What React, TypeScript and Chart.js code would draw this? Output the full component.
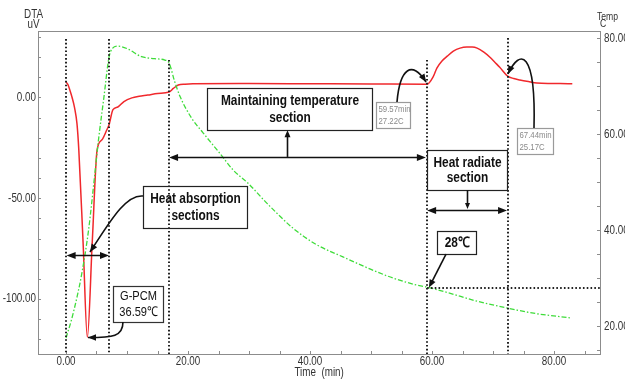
import React, { useEffect, useRef } from 'react';
import { Chart, registerables } from 'chart.js';

Chart.register(...registerables);

// ---------------- Data ----------------
// DTA signal (uV) vs time (min)  - red, left axis
const dtaTime = [0, 0.3, 0.6, 1.0, 1.4, 1.8, 2.1, 2.8, 3.5, 4.3, 5.1, 5.9, 6.7, 7.05, 7.7, 8.5, 9.5, 10.8, 12.0, 13.4, 15.0, 16.9, 17.6, 18.4, 19.5, 20.8, 30, 40, 50, 59.2, 60.2, 60.8, 61.6, 62.5, 63.5, 64.6, 65.7, 66.6, 67.4, 68.5, 69.5, 70.3, 71.1, 72.4, 73.4, 74.4, 75.8, 77.2, 79.0, 81.0, 83.0];
const dtaValue = [7.7, 6.5, 4, 0, -5, -13, -26, -72, -119, -72, -26, -21, -16, -13.6, -6, -4.7, -2, -0.2, 0.6, 1.2, 2, 2.7, 4.5, 6.2, 6.6, 6.8, 6.9, 6.8, 6.7, 6.6, 10.3, 14.6, 18, 20.5, 23, 24.5, 25, 25, 24.5, 22.5, 20, 17.5, 15, 10.6, 9.4, 8.7, 7.9, 7.2, 7.0, 7.0, 6.8];

// Temperature (C) vs time (min) - green, right axis
const tempTime = [0, 0.9, 1.8, 2.6, 3.7, 4.75, 5.3, 6.2, 7.05, 7.6, 8.5, 10, 12.4, 14.5, 16.2, 16.9, 17.8, 18.7, 20.6, 22.5, 25.2, 27.4, 29.8, 33.0, 37.2, 41.0, 45.4, 50.0, 53.6, 57.0, 59.5, 63.0, 67.0, 72.3, 77.0, 82.6];
const tempValue = [17.5, 21.3, 26, 31, 40, 52, 58.5, 67.5, 76, 77.8, 78.3, 77.8, 76.1, 75.7, 75.4, 74.8, 71, 67.8, 63.3, 60.2, 56, 52.5, 49.8, 45.5, 40.4, 37, 34.4, 31.8, 30, 28.7, 28, 26.8, 25.3, 23.75, 22.6, 21.7];

// Axis ticks
const xLabelValues = [0, 20, 40, 60, 80];
const xLabels = ['0.00', '20.00', '40.00', '60.00', '80.00'];
const xMinorValues = [0, 5, 10, 15, 20, 25, 30, 35, 40, 45, 50, 55, 60, 65, 70, 75, 80, 85];
const dtaLabelValues = [0, -50, -100];
const dtaLabels = ['0.00', '-50.00', '-100.00'];
const dtaMinorValues = [-120, -110, -100, -90, -80, -70, -60, -50, -40, -30, -20, -10, 0, 10, 20, 30];
const tempLabelValues = [20, 40, 60, 80];
const tempLabels = ['20.00', '40.00', '60.00', '80.00'];
const tempMinorValues = [15, 20, 25, 30, 35, 40, 45, 50, 55, 60, 65, 70, 75, 80];

// Section boundaries (min) and marked temperature
const sectionTimes = [0, 7.05, 16.9, 59.2, 72.4];
const markedTemp = 28;

// ---------------- Styling ----------------
const FAMILY = "'Liberation Sans', Arial, sans-serif";
const SQUEEZE = 0.82;
const RED = '#f0282c';
const GREEN = '#3fdc3a';
const AXIS = '#8c8c8c';
const TXT = '#333333';

function txt(
  ctx: CanvasRenderingContext2D,
  s: string,
  x: number,
  y: number,
  size: number,
  align: CanvasTextAlign = 'center',
  color = TXT,
  bold = false,
  sx = SQUEEZE,
) {
  ctx.save();
  ctx.translate(x, y);
  ctx.scale(sx, 1);
  ctx.font = `${bold ? 'bold ' : ''}${size}px ${FAMILY}`;
  ctx.textAlign = align;
  ctx.textBaseline = 'middle';
  ctx.fillStyle = color;
  ctx.fillText(s, 0, 0);
  ctx.restore();
}

function arrowHead(ctx: CanvasRenderingContext2D, x: number, y: number, ang: number, len = 9, hw = 3.6) {
  const c = Math.cos(ang), s = Math.sin(ang);
  ctx.beginPath();
  ctx.moveTo(x, y);
  ctx.lineTo(x - len * c + hw * s, y - len * s - hw * c);
  ctx.lineTo(x - len * c - hw * s, y - len * s + hw * c);
  ctx.closePath();
  ctx.fill();
}

const overlay = {
  id: 'overlay',
  beforeDatasetsDraw(chart: any) {
    const { ctx, chartArea: a, scales } = chart;
    ctx.save();
    ctx.strokeStyle = AXIS;
    ctx.lineWidth = 1;
    ctx.strokeRect(a.left + 0.5, a.top + 0.5, a.right - a.left, a.bottom - a.top);
    ctx.beginPath();
    scales.x.ticks.forEach((t: any) => {
      const p = Math.round(scales.x.getPixelForValue(t.value)) + 0.5;
      ctx.moveTo(p, a.bottom); ctx.lineTo(p, a.bottom - 3);
    });
    scales.y.ticks.forEach((t: any) => {
      const p = Math.round(scales.y.getPixelForValue(t.value)) + 0.5;
      ctx.moveTo(a.left, p); ctx.lineTo(a.left + 3, p);
    });
    scales.y1.ticks.forEach((t: any) => {
      const p = Math.round(scales.y1.getPixelForValue(t.value)) + 0.5;
      ctx.moveTo(a.right, p); ctx.lineTo(a.right - 3, p);
    });
    ctx.stroke();

    // tick labels
    xLabelValues.forEach((v, i) => txt(ctx, xLabels[i], scales.x.getPixelForValue(v), a.bottom + 7.5, 12));
    dtaLabelValues.forEach((v, i) => txt(ctx, dtaLabels[i], a.left - 2, scales.y.getPixelForValue(v), 12, 'right'));
    tempLabelValues.forEach((v, i) => txt(ctx, tempLabels[i], a.right + 4, scales.y1.getPixelForValue(v) + 1, 12, 'left'));

    // axis titles
    txt(ctx, 'DTA', 33.5, 15, 12);
    txt(ctx, 'uV', 33.5, 25, 12);
    txt(ctx, 'Time  (min)', scales.x.getPixelForValue(41.5), 373, 12);
    txt(ctx, 'Temp', a.right - 3, 17, 10.5, 'left');
    txt(ctx, 'C', a.right, 24, 10.5, 'left');
    ctx.restore();
  },
  afterDatasetsDraw(chart: any) {
    const { ctx, chartArea: a, scales } = chart;
    const X = (t: number) => scales.x.getPixelForValue(t);
    const Y = (v: number) => scales.y.getPixelForValue(v);
    const YT = (v: number) => scales.y1.getPixelForValue(v);
    ctx.save();

    // boxes
    const box = (t0: number, v0: number, t1: number, v1: number, lines: string[], size: number, bold: boolean, color: string, border: string, gap: number, align: CanvasTextAlign = 'center') => {
      const x0 = Math.round(X(t0)) + 0.5, x1 = Math.round(X(t1)) + 0.5;
      const y0 = Math.round(Y(v0)) + 0.5, y1 = Math.round(Y(v1)) + 0.5;
      ctx.fillStyle = '#ffffff';
      ctx.fillRect(x0, y0, x1 - x0, y1 - y0);
      ctx.strokeStyle = border;
      ctx.lineWidth = 1.2;
      ctx.setLineDash([]);
      ctx.strokeRect(x0, y0, x1 - x0, y1 - y0);
      const cy = (y0 + y1) / 2;
      const cx = align === 'center' ? (x0 + x1) / 2 : x0 + 2;
      lines.forEach((l, i) => txt(ctx, l, cx, cy + (i - (lines.length - 1) / 2) * gap, size, align, color, bold));
    };
    box(12.62, -43.9, 29.67, -64.8, ['Heat absorption', 'sections'], 14.5, true, '#111', '#222', 16.6);
    box(7.7, -93.4, 15.9, -111.4, ['G-PCM', '36.59\u2103'], 13.5, false, '#111', '#333', 15.6);
    box(23.11, 4.71, 50.16, -16.13, ['Maintaining temperature', 'section'], 14.5, true, '#111', '#222', 16.6);
    box(50.82, -2.23, 56.39, -15.14, ['59.57min', '27.22C'], 9.5, false, '#8a8a8a', '#9a9a9a', 11.7, 'left');
    box(73.93, -15.14, 79.84, -28.04, ['67.44min', '25.17C'], 9.5, false, '#8a8a8a', '#9a9a9a', 11.7, 'left');
    box(59.18, -26.05, 72.3, -45.91, ['Heat radiate', 'section'], 14.5, true, '#111', '#222', 15.5);
    box(60.82, -66.25, 67.21, -77.67, ['28\u2103'], 14.5, true, '#111', '#222', 16);

    // dotted section lines
    ctx.strokeStyle = '#222';
    ctx.lineWidth = 2;
    ctx.setLineDash([1.6, 2.2]);
    const tops = [29, 29, 18.6, 18.6, 29.5];
    sectionTimes.forEach((t, i) => {
      const x = Math.round(X(t));
      ctx.beginPath();
      ctx.moveTo(x, Y(tops[i]));
      ctx.lineTo(x, a.bottom);
      ctx.stroke();
    });
    ctx.beginPath();
    const yT = Math.round(YT(markedTemp));
    ctx.moveTo(X(sectionTimes[3]), yT);
    ctx.lineTo(a.right, yT);
    ctx.stroke();
    ctx.setLineDash([]);

    // arrows
    ctx.strokeStyle = '#111';
    ctx.fillStyle = '#111';
    ctx.lineWidth = 1.6;
    const dbl = (t0: number, t1: number, v: number) => {
      const y = Math.round(Y(v)) + 0.5;
      const x0 = X(t0), x1 = X(t1);
      ctx.beginPath(); ctx.moveTo(x0 + 4, y); ctx.lineTo(x1 - 4, y); ctx.stroke();
      arrowHead(ctx, x0, y, Math.PI);
      arrowHead(ctx, x1, y, 0);
    };
    dbl(0.1, 7.05, -78.2);
    dbl(16.9, 59.0, -29.5);
    dbl(59.2, 72.3, -55.8);

    const single = (x0: number, y0: number, x1: number, y1: number, len = 8, hw = 3.3) => {
      const ang = Math.atan2(y1 - y0, x1 - x0);
      ctx.beginPath(); ctx.moveTo(x0, y0); ctx.lineTo(x1 - 3 * Math.cos(ang), y1 - 3 * Math.sin(ang)); ctx.stroke();
      arrowHead(ctx, x1, y1, ang, len, hw);
    };
    single(Math.round(X(36.2)) + 0.5, Y(-29.5), Math.round(X(36.2)) + 0.5, Y(-16.3), 7, 3);
    single(Math.round(X(65.7)) + 0.5, Y(-45.9), Math.round(X(65.7)) + 0.5, Y(-55.3), 6, 2.5);
    single(X(62.3), Y(-77.7), X(59.5), YT(markedTemp), 8, 3.3);

    const curve = (p: number[][]) => {
      const P = p.map(([t, v]) => [X(t), Y(v)]);
      ctx.beginPath();
      ctx.moveTo(P[0][0], P[0][1]);
      ctx.bezierCurveTo(P[1][0], P[1][1], P[2][0], P[2][1], P[3][0], P[3][1]);
      ctx.stroke();
      const ang = Math.atan2(P[3][1] - P[2][1], P[3][0] - P[2][0]);
      arrowHead(ctx, P[3][0], P[3][1], ang, 8, 3.3);
    };
    curve([[12.62, -48.9], [9.67, -47.9], [6.89, -63.3], [3.93, -76.7]]);
    curve([[9.34, -111.4], [9.34, -118.6], [7.7, -119.1], [3.61, -119.1]]);
    curve([[54.26, -2.23], [54.75, 14.64], [56.72, 18.61], [59.02, 7.69]]);
    curve([[76.72, -15.14], [77.05, 23.57], [74.43, 24.57], [72.46, 11.66]]);

    ctx.restore();
  },
};

export default function App() {
  const ref = useRef<HTMLCanvasElement>(null);
  useEffect(() => {
    const dtaData = dtaTime.map((t, i) => ({ x: t, y: dtaValue[i] }));
    const tempData = tempTime.map((t, i) => ({ x: t, y: tempValue[i] }));
    const chart = new Chart(ref.current!, {
      type: 'line',
      data: {
        datasets: [
          {
            label: 'Temp',
            data: tempData,
            yAxisID: 'y1',
            borderColor: GREEN,
            borderWidth: 1.3,
            borderDash: [5, 2, 1.5, 2],
            pointRadius: 0,
            cubicInterpolationMode: 'monotone',
            fill: false,
          },
          {
            label: 'DTA',
            data: dtaData,
            yAxisID: 'y',
            borderColor: RED,
            borderWidth: 1.5,
            pointRadius: 0,
            cubicInterpolationMode: 'monotone',
            fill: false,
          },
        ],
      },
      options: {
        responsive: false,
        animation: false,
        layout: { padding: { top: 31, left: 0, right: 0, bottom: 0 } },
        plugins: { legend: { display: false }, tooltip: { enabled: false } },
        scales: {
          x: {
            type: 'linear',
            min: -4.59,
            max: 87.54,
            grid: { display: false },
            border: { display: false },
            afterBuildTicks: (s: any) => { s.ticks = xMinorValues.map((v) => ({ value: v })); },
            afterFit: (s: any) => { s.height = 25; },
            ticks: { display: false },
          },
          y: {
            type: 'linear',
            position: 'left',
            min: -127.3,
            max: 33,
            grid: { display: false },
            border: { display: false },
            afterBuildTicks: (s: any) => { s.ticks = dtaMinorValues.map((v) => ({ value: v })); },
            afterFit: (s: any) => { s.width = 38; },
            ticks: { display: false },
          },
          y1: {
            type: 'linear',
            position: 'right',
            min: 14.17,
            max: 81.46,
            grid: { display: false },
            border: { display: false },
            afterBuildTicks: (s: any) => { s.ticks = tempMinorValues.map((v) => ({ value: v })); },
            afterFit: (s: any) => { s.width = 25; },
            ticks: { display: false },
          },
        },
      },
      plugins: [overlay],
    } as any);
    return () => chart.destroy();
  }, []);
  return (
    <canvas
      ref={ref}
      width={625}
      height={379}
      style={{ position: 'absolute', left: 0, top: 0, width: 625, height: 379 }}
    />
  );
}
